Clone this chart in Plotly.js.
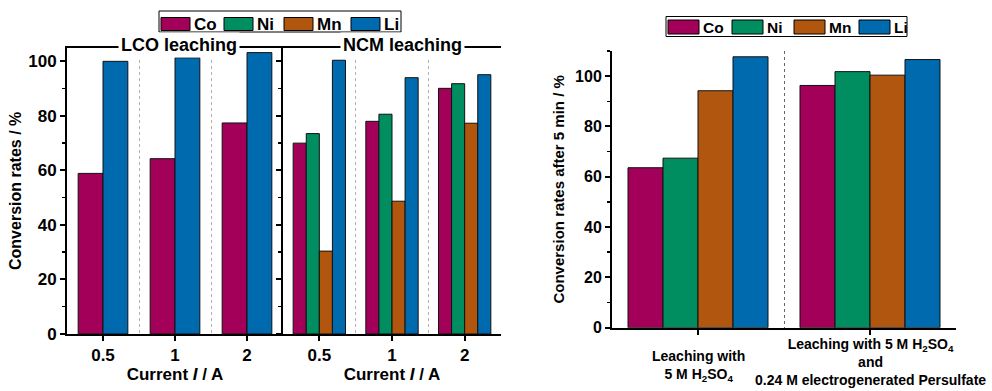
<!DOCTYPE html>
<html>
<head>
<meta charset="utf-8">
<script src="https://cdn.plot.ly/plotly-3.0.1.min.js"></script>
<style>html,body{margin:0;padding:0;background:#fff;}#chart{width:992px;height:391px;}</style>
</head>
<body>
<div id="chart"></div>
<script>
// ---- data ----
const currentCategories = ['0.5', '1', '2'];
const lcoCo = [58.9, 64.3, 77.4];
const lcoLi = [100.0, 101.3, 103.2];
const ncmCo = [70.0, 78.0, 90.1];
const ncmNi = [73.5, 80.6, 91.8];
const ncmMn = [30.4, 48.7, 77.3];
const ncmLi = [100.4, 94.0, 95.1];

const leachCategories = [
  'Leaching with<br>5 M H<sub>2</sub>SO<sub>4</sub>',
  'Leaching with 5 M H<sub>2</sub>SO<sub>4</sub><br>and<br>0.24 M electrogenerated Persulfate'
];
const leachCo = [63.6, 96.3];
const leachNi = [67.4, 101.8];
const leachMn = [94.2, 100.4];
const leachLi = [107.7, 106.6];

const metals = ['Co', 'Ni', 'Mn', 'Li'];
const panelTitles = ['LCO leaching', 'NCM leaching'];
const xTitle = 'Current <i>I</i> / A';
const yTitleLeft = 'Conversion rates / %';
const yTitleRight = 'Conversion rates after 5 min / %';

// ---- styles ----
const colors = {Co: '#A3005A', Ni: '#008D5F', Mn: '#B1560F', Li: '#006AAE'};
const FONT = 'Liberation Sans, Arial, Helvetica, sans-serif';
const W = 992, H = 391;
const px = v => v / W;
const py = v => 1 - v / H;

const xL = currentCategories.map((_, i) => i);
const xR = leachCategories.map((_, i) => i);
const boundsL = xL.slice(1).map(i => i - 0.5);
const boundsR = xR.slice(1).map(i => i - 0.5);

function bar(xa, ya, x, y, name, width, offset) {
  return {
    type: 'bar', x: x, y: y, name: name, xaxis: xa, yaxis: ya,
    width: width, offset: offset,
    marker: {color: colors[name], line: {color: '#111', width: 1}},
    showlegend: false, hoverinfo: 'skip'
  };
}

const wL = 0.345, wN = 0.18, wR = 0.2035;
const traces = [
  bar('x', 'y', xL, lcoCo, 'Co', wL, -wL),
  bar('x', 'y', xL, lcoLi, 'Li', wL, 0),
  bar('x2', 'y2', xL, ncmCo, 'Co', wN, -2 * wN),
  bar('x2', 'y2', xL, ncmNi, 'Ni', wN, -wN),
  bar('x2', 'y2', xL, ncmMn, 'Mn', wN, 0),
  bar('x2', 'y2', xL, ncmLi, 'Li', wN, wN),
  bar('x3', 'y3', xR, leachCo, 'Co', wR, -2 * wR),
  bar('x3', 'y3', xR, leachNi, 'Ni', wR, -wR),
  bar('x3', 'y3', xR, leachMn, 'Mn', wR, 0),
  bar('x3', 'y3', xR, leachLi, 'Li', wR, wR)
];

const bold = (size) => ({family: FONT, size: size, color: '#000', weight: 'bold'});

const yDomL = [py(334), py(47.7)];
const yDomR = [py(327.7), py(51)];

function xCat(domain, anchor) {
  return {
    domain: domain, anchor: anchor, range: [-0.5, 2.5],
    tickmode: 'array', tickvals: xL, ticktext: currentCategories,
    ticks: 'outside', ticklen: 5, tickwidth: 2, tickcolor: '#000',
    showline: true, linewidth: 2, linecolor: '#000', mirror: true,
    showgrid: false, zeroline: false, tickfont: bold(17),
    minor: {tickmode: 'array', tickvals: boundsL, showgrid: true, gridcolor: '#b4b4b4', griddash: 'dot', gridwidth: 1, ticks: ''},
    title: {text: xTitle, font: bold(17), standoff: 4},
    fixedrange: true
  };
}
function yLin(domain, anchor, range, opts) {
  return Object.assign({
    domain: domain, anchor: anchor, range: range,
    dtick: 20, tick0: 0, ticks: 'outside', ticklen: 5, tickwidth: 2, tickcolor: '#000',
    minor: {dtick: 10, ticks: 'outside', ticklen: 3, tickwidth: 1.5, tickcolor: '#000'},
    showline: true, linewidth: 2, linecolor: '#000',
    showgrid: false, zeroline: false, tickfont: bold(17), fixedrange: true
  }, opts);
}

// ---- legends drawn as framed keys ----
const shapes = [];
const annotations = [];
function makeKey(box, starts, sw, swY, textY, size) {
  shapes.push({type: 'rect', xref: 'paper', yref: 'paper', x0: px(box[0]), x1: px(box[1]), y0: py(box[3]), y1: py(box[2]),
    line: {color: '#000', width: 1}, fillcolor: '#fff', layer: 'above'});
  metals.forEach((m, i) => {
    shapes.push({type: 'rect', xref: 'paper', yref: 'paper', x0: px(starts[i]), x1: px(starts[i] + sw), y0: py(swY[1]), y1: py(swY[0]),
      line: {color: '#000', width: 1}, fillcolor: colors[m], layer: 'above'});
    annotations.push({text: m, xref: 'paper', yref: 'paper', x: px(starts[i] + sw + 2.5), y: py(textY), xanchor: 'left', yanchor: 'middle',
      showarrow: false, font: bold(size), borderpad: 0});
  });
}
makeKey([159, 401, 11, 32], [161, 224, 284, 351], 29, [17.5, 30.5], 24.5, 17);
makeKey([666, 907, 16.5, 36.5], [668, 732, 794, 859], 31, [20, 34], 27.5, 15.5);

annotations.push(
  {text: panelTitles[0], xref: 'paper', yref: 'paper', x: px(179), y: py(45), xanchor: 'center', yanchor: 'middle',
   showarrow: false, bgcolor: '#fff', borderpad: 2, font: bold(18)},
  {text: panelTitles[1], xref: 'paper', yref: 'paper', x: px(402.5), y: py(45), xanchor: 'center', yanchor: 'middle',
   showarrow: false, bgcolor: '#fff', borderpad: 2, font: bold(18)},
  {text: leachCategories[0], xref: 'x3', yref: 'paper', x: xR[0], y: py(346), xanchor: 'center', yanchor: 'top',
   showarrow: false, font: bold(14)},
  {text: leachCategories[1], xref: 'x3', yref: 'paper', x: xR[1], y: py(334), xanchor: 'center', yanchor: 'top',
   showarrow: false, font: bold(14)}
);

const layout = {
  width: W, height: H,
  margin: {l: 0, r: 0, t: 0, b: 0},
  paper_bgcolor: '#fff', plot_bgcolor: 'rgba(0,0,0,0)',
  font: {family: FONT, color: '#000'},
  barmode: 'overlay',
  showlegend: false,
  xaxis: xCat([px(67), px(283)], 'y'),
  xaxis2: xCat([px(283), px(501)], 'y2'),
  xaxis3: {
    domain: [px(612), px(956)], anchor: 'y3', range: [-0.5, 1.5],
    tickmode: 'array', tickvals: xR, showticklabels: false,
    ticks: 'outside', ticklen: 5, tickwidth: 2, tickcolor: '#000',
    showline: true, linewidth: 2, linecolor: '#000',
    showgrid: false, zeroline: false,
    minor: {tickmode: 'array', tickvals: boundsR, showgrid: true, gridcolor: '#666', griddash: 'dot', gridwidth: 1, ticks: ''},
    fixedrange: true
  },
  xaxis4: {
    overlaying: 'x3', side: 'top', anchor: 'y3', range: [-0.5, 1.5],
    tickmode: 'array', tickvals: xR, showticklabels: false,
    ticks: 'inside', ticklen: 5, tickwidth: 2, tickcolor: '#000',
    showline: true, linewidth: 2, linecolor: '#000',
    showgrid: false, zeroline: false, fixedrange: true
  },
  yaxis: yLin(yDomL, 'x', [0, 105], {title: {text: yTitleLeft, font: bold(16), standoff: 3}}),
  yaxis2: yLin(yDomL, 'x2', [0, 105], {showticklabels: false}),
  yaxis4: yLin(yDomL, 'x2', [0, 105], {overlaying: 'y2', side: 'right', ticks: 'inside', showticklabels: false,
    minor: {dtick: 10, ticks: 'inside', ticklen: 3, tickwidth: 1.5, tickcolor: '#000'}}),
  yaxis3: yLin(yDomR, 'x3', [0, 110], {tickfont: bold(16), title: {text: yTitleRight, font: bold(15), standoff: 7}}),
  yaxis5: yLin(yDomR, 'x3', [0, 110], {overlaying: 'y3', side: 'right', ticks: 'inside', showticklabels: false,
    minor: {dtick: 10, ticks: 'inside', ticklen: 3, tickwidth: 1.5, tickcolor: '#000'}}),
  shapes: shapes,
  annotations: annotations
};

Plotly.newPlot('chart', traces, layout, {staticPlot: true, displayModeBar: false});
</script>
</body>
</html>
